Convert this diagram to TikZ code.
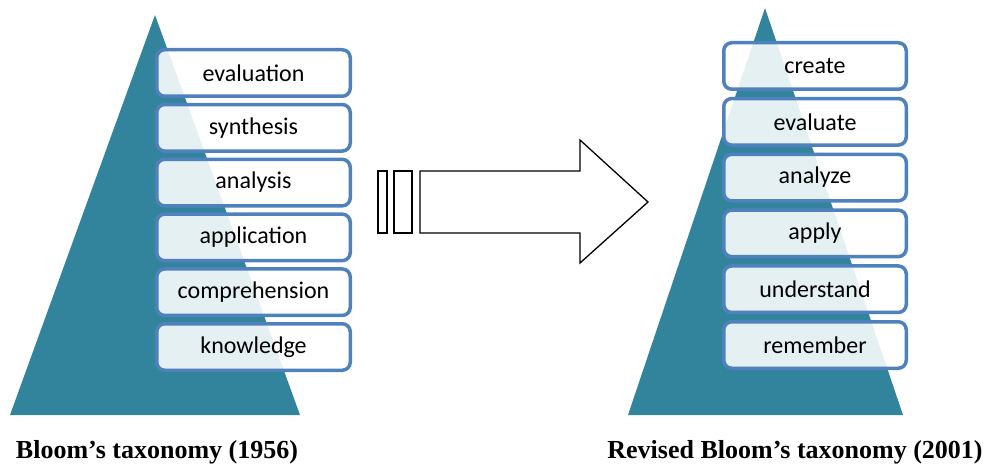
\documentclass[tikz,border=0pt]{standalone}
\usepackage{fontspec}
\setmainfont{Liberation Serif}
\newfontfamily\levelfont{Carlito}
\usepackage{tikz}
\usetikzlibrary{positioning}
\definecolor{pyramid}{HTML}{31849B}
\definecolor{levelblue}{HTML}{4F81BD}
\tikzset{
  levelbox/.style={
    rectangle, rounded corners=8pt, draw=levelblue, line width=3.5pt,
    fill=white, fill opacity=0.88, text opacity=1,
    minimum height=46.5pt, inner sep=0pt, outer sep=0pt,
    font=\levelfont\fontsize{24}{28}\selectfont
  },
  oldlevel/.style={levelbox, minimum width=193.5pt},
  newlevel/.style={levelbox, minimum width=182.5pt},
  titletext/.style={font=\bfseries\fontsize{26}{30}\selectfont, inner sep=0pt},
  blockarrow/.style={draw=black, line width=1.3pt, fill=white, line join=miter},
}

\begin{document}
\begin{tikzpicture}[x=1pt, y=-1pt]
  \useasboundingbox (0,0) rectangle (992,470);

  \fill[pyramid] (155,15) -- (300,415) -- (10,415) -- cycle;
  \fill[pyramid] (765,8) -- (903,415) -- (628,415) -- cycle;

  \begin{scope}[node distance=8.3pt]
    \node[oldlevel] (evaluation) at (253.5,73) {evaluation};
    \node[oldlevel, below=of evaluation] (synthesis) {synthesis};
    \node[oldlevel, below=of synthesis] (analysis) {analysis};
    \node[oldlevel, below=of analysis] (application) {application};
    \node[oldlevel, below=of application] (comprehension) {comprehension};
    \node[oldlevel, below=of comprehension] (knowledge) {knowledge};
  \end{scope}

  \begin{scope}[node distance=9.3pt]
    \node[newlevel] (create) at (815,66) {create};
    \node[newlevel, below=of create] (evaluate) {evaluate};
    \node[newlevel, below=of evaluate] (analyze) {analyze};
    \node[newlevel, below=of analyze] (apply) {apply};
    \node[newlevel, below=of apply] (understand) {understand};
    \node[newlevel, below=of understand] (remember) {remember};
  \end{scope}

  \draw[blockarrow] (378,171) rectangle (387,233);
  \draw[blockarrow] (394,171) rectangle (412,233);
  \draw[blockarrow] (420,171) -- (580,171) -- (580,140) -- (648,202)
    -- (580,263) -- (580,233) -- (420,233) -- cycle;

  \node[titletext] (oldtitle) at (157,452) {Bloom’s taxonomy (1956)};
  \node[titletext] (newtitle) at (795,452) {Revised Bloom’s taxonomy (2001)};
\end{tikzpicture}
\end{document}
